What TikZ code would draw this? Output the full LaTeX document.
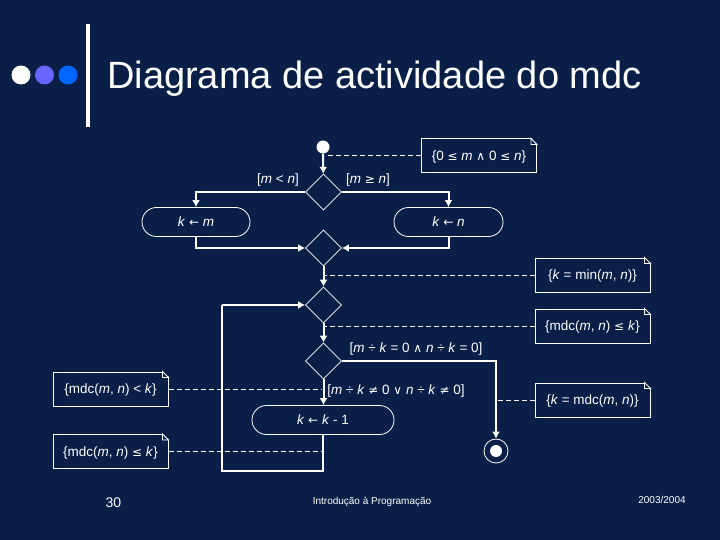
\documentclass[tikz,border=0pt]{standalone}
\usepackage{fontspec}
\setmainfont{Liberation Sans}
\newfontfamily\symf{DejaVu Sans}
\usetikzlibrary{shapes.geometric,arrows.meta}
\definecolor{bgc}{HTML}{0A1F47}
\definecolor{dotb}{HTML}{6666FF}
\definecolor{dotc}{HTML}{0066FF}
\newcommand{\iv}[1]{\textit{#1}}
\newcommand{\sy}[1]{{\symf\fontsize{12pt}{14pt}\selectfont #1}}
\newcommand{\foldc}[1]{%
  \fill[bgc] ([xshift=-6pt]#1.north east) -- ([yshift=-6pt]#1.north east) -- ([xshift=1pt,yshift=1pt]#1.north east) -- cycle;
  \draw[white,line width=0.9pt] ([xshift=-6pt]#1.north east) -- ([yshift=-6pt]#1.north east)
     -- ([xshift=-6pt,yshift=-6pt]#1.north east) -- cycle;}
\tikzset{
  x=1pt,y=-1pt,
  txt/.style={text=white,font=\fontsize{13.5pt}{16pt}\selectfont,inner sep=0pt,text height=11pt,text depth=2pt},
  notebox/.style={draw=white,line width=1pt,fill=bgc,text=white,font=\fontsize{13.5pt}{16pt}\selectfont,minimum width=115pt,minimum height=34pt,inner sep=0pt,text height=11pt,text depth=2pt},
  choice/.style={diamond,draw=white,line width=0.8pt,minimum width=36pt,minimum height=36pt,inner sep=0pt,aspect=1},
  pill/.style={draw=white,line width=0.8pt,rounded corners=14.5pt,text=white,font=\fontsize{13.5pt}{16pt}\selectfont,minimum height=29pt,inner sep=0pt},
  flow/.style={white,line width=2pt,-{Latex[length=7pt,width=8pt]}},
  plain/.style={white,line width=2pt},
  dashline/.style={white,line width=1pt,dash pattern=on 5pt off 3pt},
}
\begin{document}
\begin{tikzpicture}
\useasboundingbox (0,0) rectangle (720,540);
\fill[bgc] (0,0) rectangle (720,540);
% logo
\fill[white] (21,75) circle (9.5);
\fill[dotb] (44.5,75) circle (9.5);
\fill[dotc] (68,75) circle (9.5);
\fill[white] (86,24) rectangle (90,127);
\node[anchor=west,text=white,inner sep=0pt,font=\fontsize{38pt}{42pt}\selectfont] (title) at (107,79) {Diagrama de actividade do mdc};
% nodes
\node[circle,fill=white,minimum size=13pt,inner sep=0pt] (init) at (323,147) {};
\node[choice] (d1) at (323.5,192) {};
\node[choice] (d2) at (323.5,248) {};
\node[choice] (d3) at (323.5,305) {};
\node[choice] (d4) at (323.5,361) {};
\node[pill,minimum width=108pt] (pm) at (196,222) {\iv{k} \sy{←} \iv{m}};
\node[pill,minimum width=109pt] (pn) at (448.5,222) {\iv{k} \sy{←} \iv{n}};
\node[pill,minimum width=142pt] (pk) at (323,420) {\iv{k} \sy{←} \iv{k} - 1};
\node[circle,draw=white,line width=0.8pt,minimum size=24pt,inner sep=0pt] (fin) at (496,451) {};
\fill[white] (fin.center) circle (6);
% notes
\node[notebox] (n1) at (479,156) {\{0 \sy{≤} \iv{m} \sy{∧} 0 \sy{≤} \iv{n}\}};
\node[notebox] (n2) at (592.5,275) {\{\iv{k} = min(\iv{m}, \iv{n})\}};
\node[notebox] (n3) at (592.5,326) {\{mdc(\iv{m}, \iv{n}) \sy{≤} \iv{k}\}};
\node[notebox] (n4) at (592.5,400) {\{\iv{k} = mdc(\iv{m}, \iv{n})\}};
\node[notebox] (n5) at (110.5,389) {\{mdc(\iv{m}, \iv{n}) < \iv{k}\}};
\node[notebox] (n6) at (110.5,451.5) {\{mdc(\iv{m}, \iv{n}) \sy{≤} \iv{k}\}};
\foldc{n1}\foldc{n2}\foldc{n3}\foldc{n4}\foldc{n5}\foldc{n6}
% free ends
\coordinate (c1) at (326,156);
\coordinate (c2) at (324,275);
\coordinate (c3) at (324,326);
\coordinate (c4) at (497,400);
\coordinate (c5) at (322,389);
\coordinate (c6) at (322,451.5);
\coordinate (lb) at (323,471);
\coordinate (la) at (222,471);
\coordinate (lc) at (222,305);
% dashed
\draw[dashline] (n1.west) -- (c1);
\draw[dashline] (n2.west) -- (c2);
\draw[dashline] (n3.west) -- (c3);
\draw[dashline] (n4.west) -- (c4);
\draw[dashline] (n5.east) -- (c5);
\draw[dashline] (n6.east) -- (c6);
% flow
\draw[flow] (init) -- (d1);
\draw[flow] (d1.west) -| (pm.north);
\draw[flow] (d1.east) -| (pn.north);
\draw[flow] (pm.south) |- (d2.west);
\draw[flow] (pn.south) |- (d2.east);
\draw[flow] (d2) -- (d3);
\draw[flow] (d3) -- (d4);
\draw[flow] (d4) -- (d4 |- pk.north);
\draw[plain,line join=miter] (pk.south) -- (lb) -- (la) -- (lc);
\draw[flow] (lc) -- (d3.west);
\draw[flow] (d4.east) -| (fin.north);
% labels
\node[txt] (l1) at (278,179) {[\iv{m} < \iv{n}]};
\node[txt] (l2) at (368,179) {[\iv{m} \sy{≥} \iv{n}]};
\node[txt] (l3) at (416,348) {[\iv{m} ÷ \iv{k} = 0 \sy{∧} \iv{n} ÷ \iv{k} = 0]};
\node[txt] (l4) at (396,390) {[\iv{m} ÷ \iv{k} \sy{≠} 0 \sy{∨} \iv{n} ÷ \iv{k} \sy{≠} 0]};
% footer
\node[text=white,inner sep=0pt,font=\fontsize{14pt}{16pt}\selectfont] (f1) at (113.5,503) {30};
\node[text=white,inner sep=0pt,font=\fontsize{10pt}{12pt}\selectfont] (f2) at (372,502) {Introdução à Programação};
\node[text=white,inner sep=0pt,font=\fontsize{10pt}{12pt}\selectfont] (f3) at (662,500) {2003/2004};
\end{tikzpicture}
\end{document}
